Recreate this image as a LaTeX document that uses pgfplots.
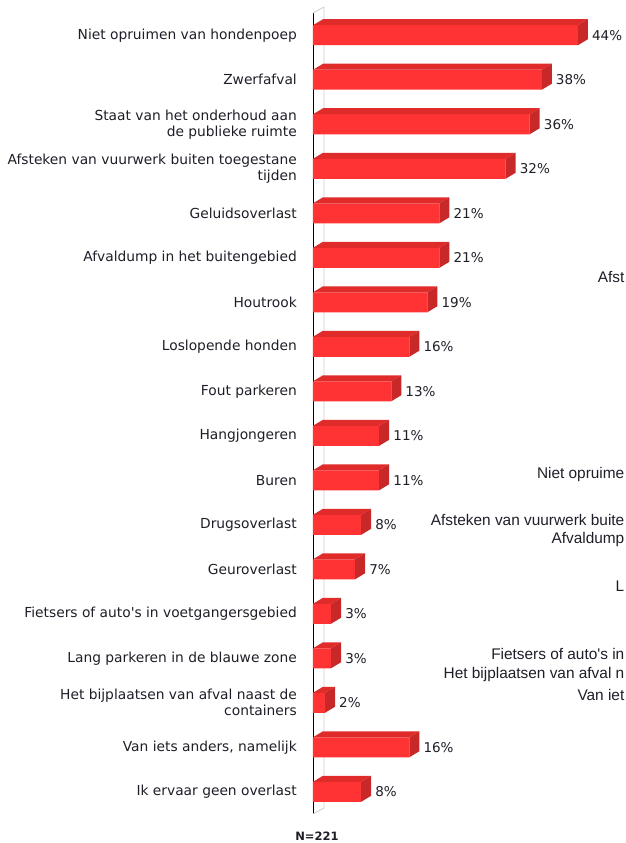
\documentclass[border=0pt]{standalone}
\usepackage{pgfplots}
\pgfplotsset{compat=1.18}
\usepackage{fontspec}
\setmainfont{DejaVu Sans}
\newfontfamily\arialfont{Liberation Sans}
\definecolor{barfront}{RGB}{255,51,51}
\definecolor{bartop}{RGB}{224,43,43}
\definecolor{barside}{RGB}{200,40,40}
\definecolor{txt}{RGB}{30,30,40}
\definecolor{wall}{RGB}{205,205,205}

\pgfdeclareplotmark{bar3d}{%
  \pgfmathsetlengthmacro\barlen{\rawx*6.02pt}%
  % top face
  \pgfpathmoveto{\pgfpoint{-\barlen}{10pt}}%
  \pgfpathlineto{\pgfpoint{0pt}{10pt}}%
  \pgfpathlineto{\pgfpoint{10pt}{16pt}}%
  \pgfpathlineto{\pgfpoint{-\barlen+10pt}{16pt}}%
  \pgfpathclose
  \pgfsetfillcolor{bartop}%
  \pgfusepath{fill}%
  % side face
  \pgfpathmoveto{\pgfpoint{0pt}{-10pt}}%
  \pgfpathlineto{\pgfpoint{0pt}{10pt}}%
  \pgfpathlineto{\pgfpoint{10pt}{16pt}}%
  \pgfpathlineto{\pgfpoint{10pt}{-4pt}}%
  \pgfpathclose
  \pgfsetfillcolor{barside}%
  \pgfusepath{fill}%
}

\pgfplotstableread{
row val
0 44
1 38
2 36
3 32
4 21
5 21
6 19
7 16
8 13
9 11
10 11
11 8
12 7
13 3
14 3
15 2
16 16
17 8
}\datatable

\begin{document}
\begin{tikzpicture}
\useasboundingbox (0pt,0pt) rectangle (625pt,843pt);
\begin{axis}[
  at={(313pt,29pt)}, anchor=south west,
  scale only axis,
  x=6.02pt, y=44.5pt,
  xmin=0, xmax=50,
  ymin=-0.5, ymax=17.5,
  y dir=reverse,
  clip=false,
  hide x axis,
  axis y line*=left,
  y axis line style={-, black, line width=0.8pt},
  ytick={0,...,17},
  major tick length=0pt,
  yticklabels={
    Niet opruimen van hondenpoep,
    Zwerfafval,
    {Staat van het onderhoud aan\\de publieke ruimte},
    {Afsteken van vuurwerk buiten toegestane\\tijden},
    Geluidsoverlast,
    Afvaldump in het buitengebied,
    Houtrook,
    Loslopende honden,
    Fout parkeren,
    Hangjongeren,
    Buren,
    Drugsoverlast,
    Geuroverlast,
    {Fietsers of auto\textquotesingle s in voetgangersgebied},
    Lang parkeren in de blauwe zone,
    {Het bijplaatsen van afval naast de\\containers},
    {Van iets anders, namelijk},
    Ik ervaar geen overlast},
  yticklabel style={align=right, inner sep=0pt, xshift=-16pt,
    font=\fontsize{13.8}{16}\selectfont, text=txt},
  /pgf/number format/assume math mode=true,
]
\draw[wall, line width=0.8pt] (axis cs:0,17.5) -- ++(11pt,6pt) -- ++(0pt,801pt) -- (axis cs:0,-0.5);
\addplot[xbar, bar width=20pt, fill=barfront, draw=none,
  point meta=x,
  nodes near coords={\pgfmathprintnumber[fixed,precision=0]{\pgfplotspointmeta}\%},
  every node near coord/.append style={anchor=west, inner sep=0pt, xshift=14pt,
    font=\fontsize{13.5}{16}\selectfont, text=txt}
] table[x=val, y=row] {\datatable};
\addplot[scatter, only marks, mark=bar3d,
  visualization depends on={x \as \rawx},
  scatter/@pre marker code/.code={},
  scatter/@post marker code/.code={}
] table[x=val, y=row] {\datatable};
\end{axis}
\node[anchor=base, inner sep=0pt, font=\fontsize{11.5}{13}\selectfont\bfseries, text=txt] at (317pt,843pt-841pt) {N=221};
\begin{scope}[every node/.style={anchor=east, inner sep=0pt, font=\arialfont\fontsize{15.4}{17}\selectfont, text=txt}]
\node at (624.5pt,843pt-277pt) {Afst};
\node at (624.5pt,843pt-475pt) {Niet opruime};
\node at (624.5pt,843pt-520pt) {Afsteken van vuurwerk buite};
\node at (624.5pt,843pt-540pt) {Afvaldump};
\node at (624.5pt,843pt-586pt) {L};
\node at (624.5pt,843pt-654pt) {Fietsers of auto's in};
\node at (624.5pt,843pt-675pt) {Het bijplaatsen van afval n};
\node at (624.5pt,843pt-695pt) {Van iet};
\end{scope}
\end{tikzpicture}
\end{document}
